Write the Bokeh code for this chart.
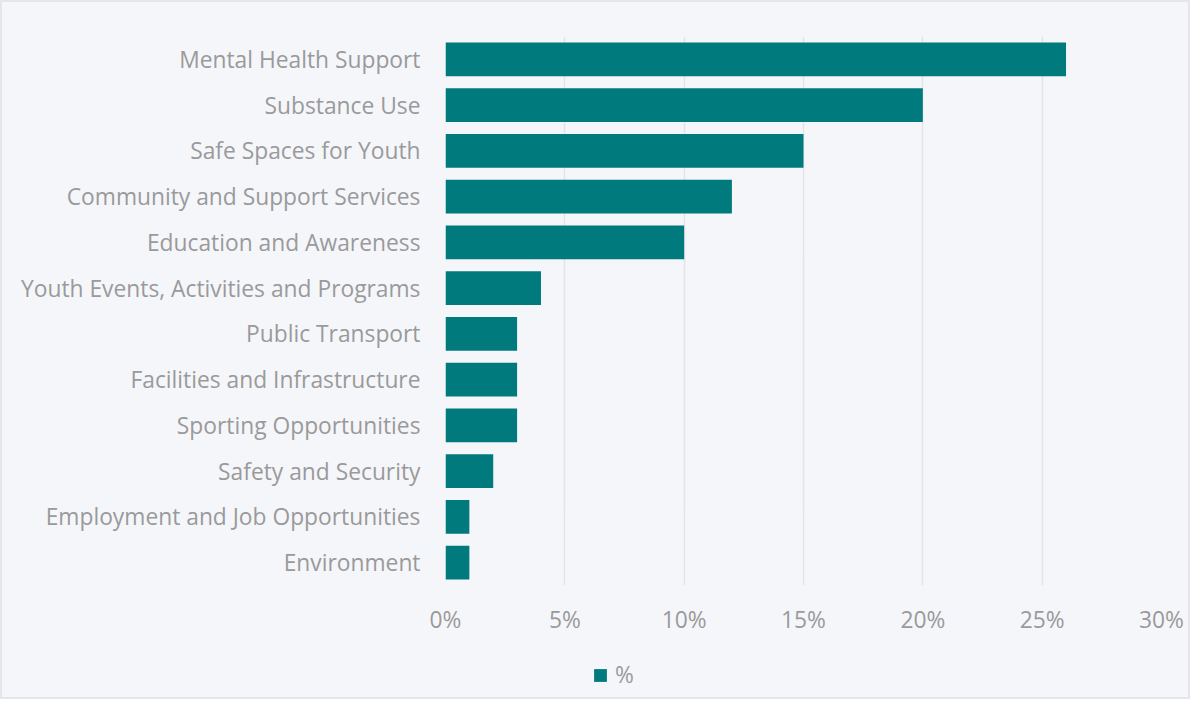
from bokeh.plotting import figure
from bokeh.layouts import column
from bokeh.models import ColumnDataSource, FactorRange, Range1d, Legend, LegendItem, NumeralTickFormatter, FixedTicker
from bokeh.embed import file_html
from bokeh.resources import INLINE

categories = [
    "Mental Health Support",
    "Substance Use",
    "Safe Spaces for Youth",
    "Community and Support Services",
    "Education and Awareness",
    "Youth Events, Activities and Programs",
    "Public Transport",
    "Facilities and Infrastructure",
    "Sporting Opportunities",
    "Safety and Security",
    "Employment and Job Opportunities",
    "Environment",
]
values = [26, 20, 15, 12, 10, 4, 3, 3, 3, 2, 1, 1]
x_ticks = [0, 5, 10, 15, 20, 25, 30]
series_name = "%"

BG = "#f5f6fa"
BAR = "#007a7c"
TXT = "#9a9a9a"
FONT = "Open Sans"
FS = "22.8px"

src = ColumnDataSource(dict(cat=categories, val=[v / 100 for v in values]))

p = figure(
    width=1186, height=635,
    y_range=FactorRange(*categories[::-1], range_padding=0),
    x_range=Range1d(0, 0.30),
    output_backend="svg", toolbar_location=None,
    background_fill_color=BG, border_fill_color=BG,
    min_border_left=443, min_border_right=27, min_border_top=34, min_border_bottom=10,
)
p.y_range.factor_padding = 0

r = p.hbar(y="cat", right="val", left=0, height=0.74, source=src, color=BAR, line_color=None)

p.outline_line_color = None
p.ygrid.grid_line_color = None
p.xgrid.grid_line_color = "#e3e4e8"
p.xgrid.grid_line_width = 1.5

p.xaxis.ticker = FixedTicker(ticks=[t / 100 for t in x_ticks])
p.xaxis.formatter = NumeralTickFormatter(format="0%")
for ax in (p.xaxis[0], p.yaxis[0]):
    ax.axis_line_color = None
    ax.major_tick_line_color = None
    ax.minor_tick_line_color = None
    ax.major_label_text_color = TXT
    ax.major_label_text_font = FONT
    ax.major_label_text_font_size = FS
p.xaxis.major_label_standoff = 12
p.yaxis.major_label_standoff = 19

# legend strip below the chart (zero-height proxy bars carry the legend swatch)
p2 = figure(
    width=1186, height=60,
    x_range=Range1d(0, 0.30), y_range=FactorRange(*categories[::-1]),
    output_backend="svg", toolbar_location=None,
    background_fill_color=BG, border_fill_color=BG,
    min_border=0,
)
p2.axis.visible = False
p2.grid.grid_line_color = None
p2.outline_line_color = None
r2 = p2.hbar(y="cat", right="val", left=0, height=0, source=src, color=BAR, line_color=None)

legend = Legend(items=[LegendItem(label=series_name, renderers=[r2])],
                orientation="horizontal", location=(147, 7),
                background_fill_alpha=0, border_line_color=None,
                label_text_font=FONT, label_text_font_size=FS, label_text_color=TXT,
                glyph_width=16, glyph_height=16, label_standoff=7, margin=0, padding=0,
                label_height=16)
p2.add_layout(legend, "center")

layout = column(p, p2, spacing=0, styles={"border": "2px solid #e4e6ea", "background-color": BG})

open("out.html", "w").write(file_html(layout, INLINE))
